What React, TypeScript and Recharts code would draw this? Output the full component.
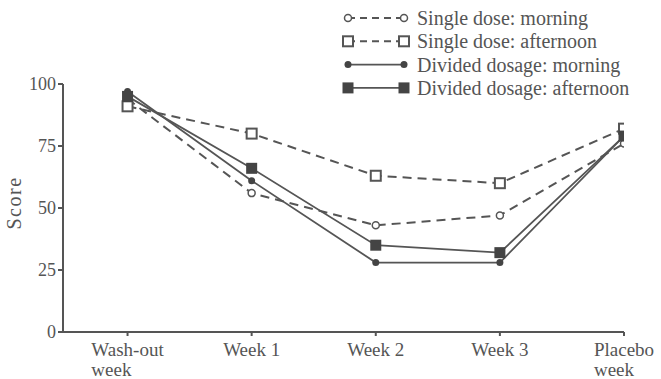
import React from "react";
import { LineChart, Line, XAxis, YAxis } from "recharts";

const categories = ["Wash-out\nweek", "Week 1", "Week 2", "Week 3", "Placebo\nweek"];
const singleMorning = [94, 56, 43, 47, 76];
const singleAfternoon = [91, 80, 63, 60, 82];
const dividedMorning = [97, 61, 28, 28, 79];
const dividedAfternoon = [95, 66, 35, 32, 79];
const yTicks = [0, 25, 50, 75, 100];
const seriesNames = [
  "Single dose: morning",
  "Single dose: afternoon",
  "Divided dosage: morning",
  "Divided dosage: afternoon",
];

const data = categories.map((c, i) => ({
  idx: i,
  sm: singleMorning[i],
  sa: singleAfternoon[i],
  dm: dividedMorning[i],
  da: dividedAfternoon[i],
}));

const INK = "#555";
const FONT = "'Liberation Serif', 'Times New Roman', serif";

function measure(text: string, size: number) {
  try {
    const c = document.createElement("canvas").getContext("2d");
    if (c) {
      c.font = `${size}px 'Liberation Serif'`;
      return c.measureText(text).width;
    }
  } catch (e) {}
  return text.length * size * 0.48;
}

const XTick = (props: any) => {
  const { x, y, payload } = props;
  const lines = String(categories[payload.value] ?? "").split("\n");
  const w = measure(lines[0], 19);
  const start = x - w / 2;
  return (
    <g>
      {lines.map((l, i) => (
        <text key={i} x={start} y={y + 18 + i * 19.5} fontSize={19} fill={INK} fontFamily={FONT} textAnchor="start">
          {l}
        </text>
      ))}
    </g>
  );
};

const YTick = (props: any) => {
  const { x, y, payload } = props;
  return (
    <text x={x} y={y} dy={6} fontSize={18} fill={INK} fontFamily={FONT} textAnchor="end">
      {payload.value}
    </text>
  );
};

const OpenCircle = (p: any) =>
  p.cx == null ? null : <circle key={p.key} cx={p.cx} cy={p.cy} r={3.5} fill="#fff" stroke={INK} strokeWidth={1.5} />;
const OpenSquare = (p: any) =>
  p.cx == null ? null : <rect key={p.key} x={p.cx - 5} y={p.cy - 5} width={10} height={10} fill="#fff" stroke={INK} strokeWidth={2} />;
const FilledCircle = (p: any) =>
  p.cx == null ? null : <circle key={p.key} cx={p.cx} cy={p.cy} r={3.5} fill="#444" stroke="none" />;
const FilledSquare = (p: any) =>
  p.cx == null ? null : <rect key={p.key} x={p.cx - 5.5} y={p.cy - 5.5} width={11} height={11} fill="#444" stroke="none" />;

const LegendBox = () => {
  const rows = [0, 1, 2, 3];
  return (
    <svg width={300} height={100} style={{ position: "absolute", left: 340, top: 5 }}>
      {rows.map((r) => {
        const cy = 13 + r * 23.3;
        const dashed = r < 2;
        const m = (cx: number) =>
          r === 0 ? (
            <circle cx={cx} cy={cy} r={3.5} fill="#fff" stroke={INK} strokeWidth={1.5} />
          ) : r === 1 ? (
            <rect x={cx - 5} y={cy - 5} width={10} height={10} fill="#fff" stroke={INK} strokeWidth={2} />
          ) : r === 2 ? (
            <circle cx={cx} cy={cy} r={3.5} fill="#444" />
          ) : (
            <rect x={cx - 5.5} y={cy - 5.5} width={11} height={11} fill="#444" />
          );
        return (
          <g key={r}>
            <line x1={8} x2={64} y1={cy} y2={cy} stroke={INK} strokeWidth={dashed ? 2 : 1.8} strokeDasharray={dashed ? "7 5" : undefined} />
            {m(8)}
            {m(64)}
            <text x={77} y={cy} dy={7} fontSize={20} fill={INK} fontFamily={FONT}>
              {seriesNames[r]}
            </text>
          </g>
        );
      })}
    </svg>
  );
};

export default function App() {
  return (
    <div style={{ position: "absolute", left: 0, top: 0, width: 661, height: 379, background: "#fff" }}>
      <LineChart width={661} height={379} data={data} margin={{ top: 84, right: 37, bottom: 0, left: 0 }}>
        <XAxis
          dataKey="idx"
          type="number"
          domain={[-0.52, 4]}
          ticks={[0, 1, 2, 3, 4]}
          allowDataOverflow
          stroke={INK}
          strokeWidth={2}
          tickSize={4}
          tick={<XTick />}
          height={47}
        />
        <YAxis
          domain={[0, 100]}
          ticks={yTicks}
          stroke={INK}
          strokeWidth={2}
          tickSize={5}
          width={63}
          tick={<YTick />}
          label={{ value: "Score", angle: -90, position: "insideLeft", offset: 14, dy: -5, style: { fontSize: 20, fill: INK, fontFamily: FONT, letterSpacing: 1.5, textAnchor: "middle" } }}
        />
        <Line dataKey="sm" stroke={INK} strokeWidth={2} strokeDasharray="9 6" dot={OpenCircle} isAnimationActive={false} />
        <Line dataKey="sa" stroke={INK} strokeWidth={2} strokeDasharray="9 6" dot={OpenSquare} isAnimationActive={false} />
        <Line dataKey="dm" stroke={INK} strokeWidth={1.8} dot={FilledCircle} isAnimationActive={false} />
        <Line dataKey="da" stroke={INK} strokeWidth={1.8} dot={FilledSquare} isAnimationActive={false} />
      </LineChart>
      <LegendBox />
    </div>
  );
}
